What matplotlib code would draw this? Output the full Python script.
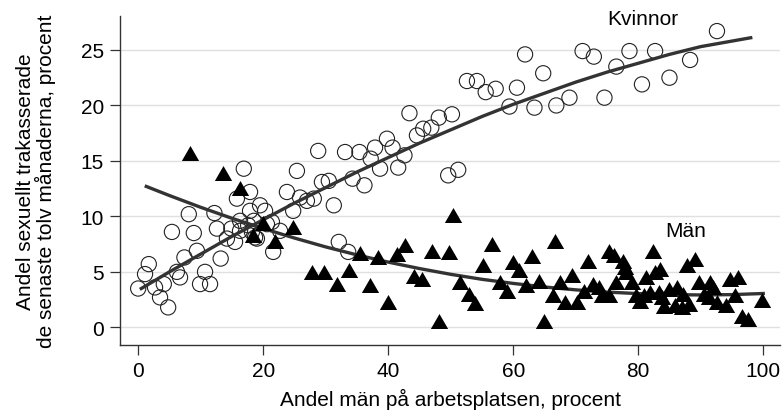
import matplotlib.pyplot as plt

# Kvinnor (open circles)
kvinnor_x = [0.0, 1.1, 1.7, 2.7, 3.5, 4.1, 4.8, 5.4, 6.2, 6.7, 7.4, 8.1, 8.9, 9.4, 9.9,
             10.7, 11.5, 12.2, 12.6, 13.2, 14.2, 14.9, 15.5, 15.8, 16.3, 16.3, 16.9, 17.6,
             17.9, 17.9, 18.2, 18.5, 18.7, 19.0, 19.5, 20.3, 20.6, 21.4, 21.6, 22.7, 23.8,
             24.8, 25.4, 25.9, 27.0, 28.1, 28.8, 29.4, 30.5, 31.3, 32.1, 33.1, 33.6, 34.3,
             35.4, 36.2, 37.2, 37.9, 38.7, 39.8, 40.7, 41.6, 42.6, 43.4, 44.6, 45.6, 46.9,
             48.1, 49.6, 50.2, 51.2, 52.6, 54.2, 55.6, 57.2, 59.4, 60.6, 61.9, 63.4, 64.8,
             66.9, 69.0, 71.1, 72.9, 74.6, 76.5, 78.6, 80.6, 82.7, 85.0, 88.3, 92.6]
kvinnor_y = [3.5, 4.8, 5.7, 3.6, 2.7, 3.9, 1.8, 8.6, 5.0, 4.5, 6.3, 10.2, 8.5, 6.9, 3.9,
             5.0, 3.9, 10.3, 8.9, 6.2, 8.0, 8.9, 7.7, 11.6, 9.6, 8.7, 14.3, 9.2,
             12.2, 10.5, 8.6, 9.6, 8.1, 8.0, 11.0, 10.5, 9.3, 9.5, 6.8, 8.7, 12.2,
             10.5, 14.1, 11.7, 11.4, 11.6, 15.9, 13.1, 13.2, 11.0, 7.7, 15.8, 6.8, 13.4,
             15.8, 12.8, 15.2, 16.2, 14.3, 17.0, 16.2, 14.4, 15.5, 19.3, 17.3, 17.9, 18.0,
             18.9, 13.7, 19.2, 14.2, 22.2, 22.2, 21.2, 21.5, 19.9, 21.6, 24.6, 19.8, 22.9,
             20.0, 20.7, 24.9, 24.4, 20.7, 23.5, 24.9, 21.9, 24.9, 22.5, 24.1, 26.7]

# Män (filled triangles)
man_x = [8.3, 13.6, 16.3, 18.4, 19.9, 21.9, 24.8, 27.8, 29.8, 31.8, 33.7, 35.5, 37.1,
         38.4, 40.0, 41.4, 42.7, 44.1, 45.4, 47.0, 48.2, 49.8, 50.4, 51.5, 52.9, 53.9,
         55.2, 56.6, 57.9, 59.0, 60.0, 60.9, 62.1, 63.0, 64.1, 64.9, 66.3, 66.7, 67.5,
         68.3, 69.4, 70.2, 71.3, 72.0, 72.7, 73.7, 74.2, 75.3, 75.3, 76.1, 76.5, 77.6,
         77.9, 78.1, 79.0, 79.7, 80.3, 81.0, 81.3, 81.9, 82.4, 82.7, 83.3, 83.5, 83.8,
         84.1, 84.9, 85.9, 86.2, 87.0, 87.2, 87.8, 88.1, 89.1, 89.7, 90.5, 91.3, 91.5,
         92.0, 92.6, 94.0, 94.7, 95.5, 96.0, 96.6, 97.5, 99.8]
man_y = [15.7, 13.9, 12.6, 8.3, 9.4, 7.8, 9.0, 5.0, 5.0, 3.9, 5.2, 6.7, 3.8,
         6.3, 2.3, 6.6, 7.4, 4.6, 4.4, 6.9, 0.6, 6.8, 10.1, 4.1, 3.0, 2.2,
         5.6, 7.5, 4.1, 3.3, 5.9, 5.2, 3.8, 6.4, 4.2, 0.6, 2.9, 7.8, 4.1,
         2.3, 4.7, 2.3, 3.3, 6.0, 3.9, 3.6, 2.9, 2.9, 6.9, 6.5, 4.1, 6.0,
         5.4, 5.0, 4.1, 2.9, 2.4, 2.9, 4.5, 3.2, 6.9, 5.0, 3.2, 5.3, 2.7,
         1.9, 3.5, 2.0, 3.6, 1.8, 3.0, 5.6, 2.1, 6.2, 4.1, 3.0, 2.7, 4.1,
         3.6, 2.3, 2.0, 4.4, 2.9, 4.5, 1.05, 0.75, 2.5]

# fitted curves
kv_fit_x = [0.5, 5, 10, 15, 20, 25, 30, 35, 40, 45, 50, 55, 60, 65, 70, 75, 80, 85, 90, 95, 98]
kv_fit_y = [3.5, 5.0, 6.6, 8.2, 9.7, 11.2, 12.6, 14.0, 15.3, 16.6, 17.8, 19.0, 20.1, 21.1,
            22.1, 23.0, 23.8, 24.6, 25.3, 25.8, 26.1]
man_fit_x = [1.3, 5, 10, 15, 20, 25, 30, 35, 40, 45, 50, 55, 60, 65, 70, 75, 80, 85, 90, 95, 100]
man_fit_y = [12.7, 11.88, 10.82, 9.83, 8.91, 8.05, 7.25, 6.53, 5.88, 5.3, 4.78, 4.33, 3.96,
             3.64, 3.38, 3.18, 3.04, 2.95, 2.92, 2.95, 3.05]

plt.rcParams['font.family'] = ['Liberation Sans', 'DejaVu Sans']

fig = plt.figure(figsize=(7.83, 4.14), dpi=100)
ax = fig.add_axes([0.1533, 0.164, 0.843, 0.796])

tri = [(-1, -0.866), (1, -0.866), (0, 0.866)]

ax.scatter(kvinnor_x, kvinnor_y, s=120, facecolors='none', edgecolors='#222222',
           linewidths=0.8, zorder=2)
ax.plot(kv_fit_x, kv_fit_y, color='#333333', lw=2.4, zorder=3)
ax.plot(man_fit_x, man_fit_y, color='#333333', lw=2.4, zorder=3)
ax.scatter(man_x, man_y, s=155, marker=tri, color='black', linewidths=0, zorder=4)

ax.text(80.8, 27.8, 'Kvinnor', fontsize=15, ha='center', va='center')
ax.text(87.6, 8.7, 'Män', fontsize=15, ha='center', va='center')

ax.set_xlim(-2.9, 102.7)
ax.set_ylim(-1.6, 28.1)
ax.set_xticks([0, 20, 40, 60, 80, 100])
ax.set_yticks([0, 5, 10, 15, 20, 25])
ax.yaxis.grid(True, color='#e0e0e0', lw=1)
ax.set_axisbelow(True)
for side in ['top', 'right']:
    ax.spines[side].set_visible(False)
for side in ['left', 'bottom']:
    ax.spines[side].set_color('#333333')
    ax.spines[side].set_linewidth(1)
ax.tick_params(axis='both', length=7.5, width=0.9, color='#333333', labelsize=15, pad=4)

ax.set_xlabel('Andel män på arbetsplatsen, procent', fontsize=15, labelpad=6)
ax.set_ylabel('Andel sexuellt trakasserade\nde senaste tolv månaderna, procent',
              fontsize=15, labelpad=18, linespacing=1.0)

fig.savefig('out.png', dpi=100)
